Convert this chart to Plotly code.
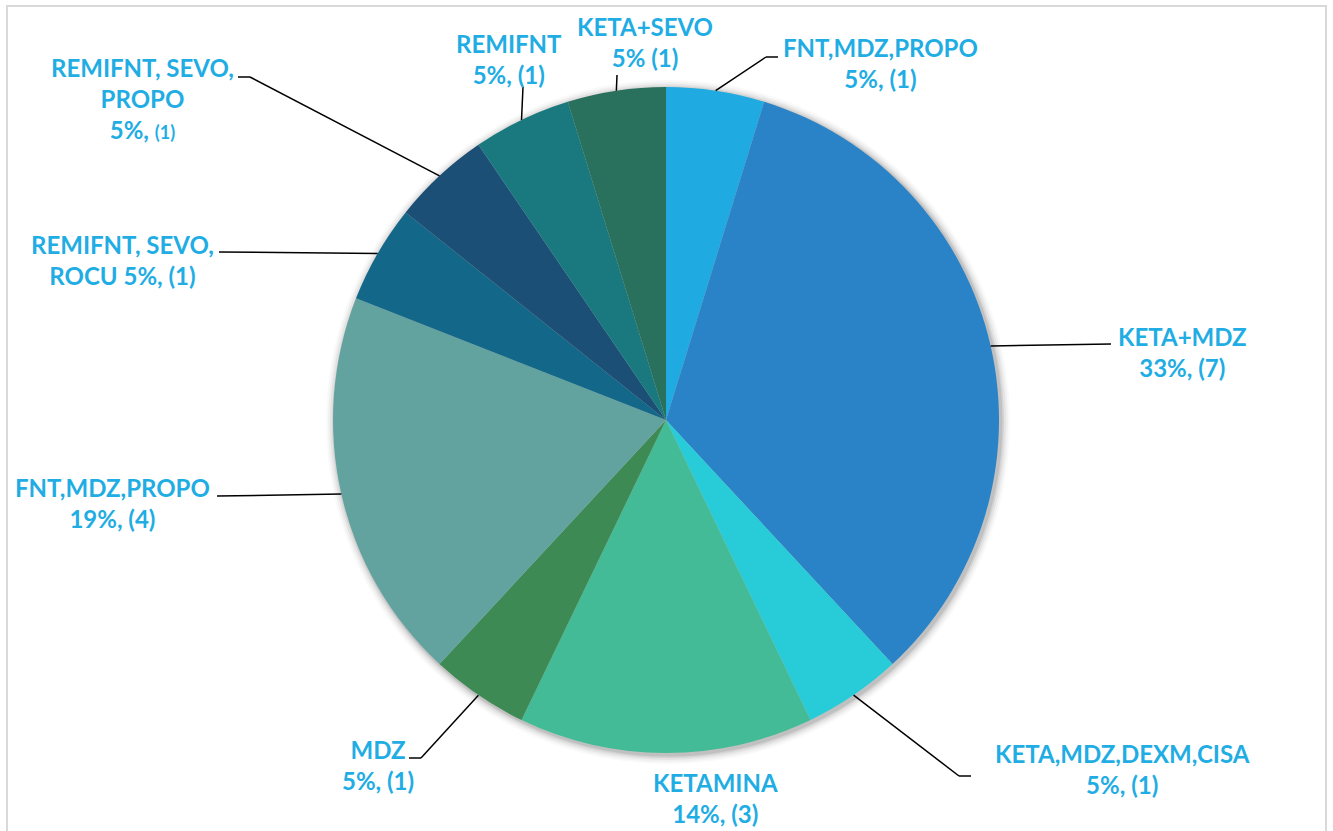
import math
import plotly.graph_objects as go

# Anaesthetic combinations and number of cases
categories = [
    "FNT,MDZ,PROPO", "KETA+MDZ", "KETA,MDZ,DEXM,CISA", "KETAMINA", "MDZ",
    "FNT,MDZ,PROPO", "REMIFNT, SEVO, ROCU", "REMIFNT, SEVO, PROPO",
    "REMIFNT", "KETA+SEVO",
]
counts = [1, 7, 1, 3, 1, 4, 1, 1, 1, 1]
colors = [
    "#1FABE2", "#2A82C7", "#27CCD8", "#44BB97", "#3E8A55",
    "#62A39F", "#136889", "#1C4F75", "#1A797E", "#29705D",
]

W, H = 1333, 831
CX, CY, R = 666, 420, 333          # pie centre and radius, pixels
TXT = "#1FADE4"
FONT = dict(family="Lato", size=24, color=TXT, weight=700)


def px(x):
    return x / W


def py(y):
    return 1 - y / H


total = sum(counts)
pct = [round(100 * c / total) for c in counts]


def label_text(i, sep="<br>"):
    return f"{categories[i]}{sep}{pct[i]}%, ({counts[i]})"


texts = [label_text(i) for i in range(len(counts))]
texts[6] = f"REMIFNT, SEVO,<br>ROCU {pct[6]}%, ({counts[6]})"
texts[7] = (f"REMIFNT, SEVO,<br>PROPO<br>{pct[7]}%, "
            f"<span style='font-size:18px'>({counts[7]})</span>")
texts[9] = f"{categories[9]}<br>{pct[9]}% ({counts[9]})"

# label block centres (pixels)
label_pos = [
    (880, 63), (1182, 352), (1122, 769), (715, 798), (378, 765),
    (112, 503), (122, 260), (142, 98), (509, 59), (645, 42),
]
# leader line bends and ends after leaving the slice edge (pixels)
leader_pts = [
    [(766, 57), (778, 57)],
    [(1111, 344)],
    [(959, 776), (971, 776)],
    None,
    [(421, 758), (409, 758)],
    [(217, 496)],
    [(219, 252)],
    [(250, 77), (238, 77)],
    [(523, 87)],
    [(617, 75)],
]

fig = go.Figure(go.Pie(
    labels=[f"{c} #{i}" for i, c in enumerate(categories)],
    values=counts,
    sort=False,
    direction="clockwise",
    rotation=0,
    marker=dict(colors=colors, line=dict(width=0)),
    textinfo="none",
    hoverinfo="skip",
    showlegend=False,
    domain=dict(x=[px(CX - R), px(CX + R)], y=[py(CY + R), py(CY - R)]),
))

shapes = []
# soft drop shadow behind the pie
for k, op in [(9, 0.025), (7, 0.035), (5, 0.05), (3, 0.07), (1.5, 0.09)]:
    ox, oy = 2, 2
    shapes.append(dict(
        type="circle", xref="paper", yref="paper", layer="below",
        x0=px(CX - R - k + ox), x1=px(CX + R + k + ox),
        y0=py(CY + R + k + oy), y1=py(CY - R - k + oy),
        fillcolor=f"rgba(0,0,0,{op})", line=dict(width=0),
    ))

# leader lines from slice mid-angle on the rim
cum = 0
for i, c in enumerate(counts):
    mid = (cum + c / 2) / total * 2 * math.pi
    cum += c
    pts = leader_pts[i]
    if not pts:
        continue
    sx = CX + R * math.sin(mid)
    sy = CY - R * math.cos(mid)
    chain = [(sx, sy)] + pts
    for (x0, y0), (x1, y1) in zip(chain[:-1], chain[1:]):
        shapes.append(dict(
            type="line", xref="paper", yref="paper",
            x0=px(x0), y0=py(y0), x1=px(x1), y1=py(y1),
            line=dict(color="black", width=1.5),
        ))

# outer frame
shapes.append(dict(
    type="rect", xref="paper", yref="paper",
    x0=px(7), x1=px(1326), y0=-0.05, y1=py(6),
    line=dict(color="#D9D9D9", width=2), fillcolor="rgba(0,0,0,0)",
))

annotations = [
    dict(text=t, x=px(x), y=py(y), xref="paper", yref="paper",
         xanchor="center", yanchor="middle", showarrow=False,
         font=FONT, align="center")
    for t, (x, y) in zip(texts, label_pos)
]

fig.update_layout(
    width=W, height=H,
    margin=dict(l=0, r=0, t=0, b=0),
    paper_bgcolor="white",
    plot_bgcolor="white",
    shapes=shapes,
    annotations=annotations,
)

fig.write_html("out.html")
